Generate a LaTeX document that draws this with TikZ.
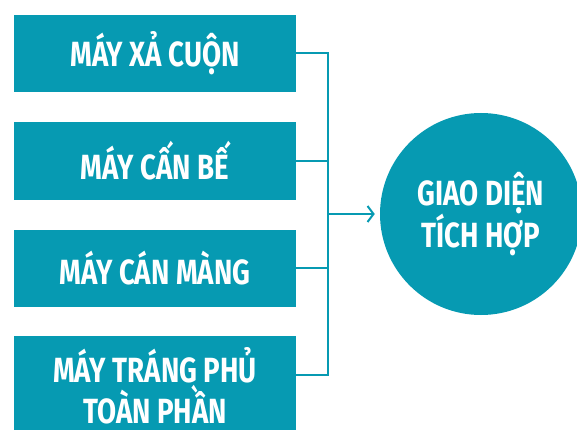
\documentclass[tikz,border=0pt]{standalone}
\usepackage{fontspec}
\usetikzlibrary{arrows.meta}
\newfontfamily\boxfont[FakeStretch=0.79]{Fira Sans}
\definecolor{teal}{RGB}{6,154,178}

\begin{document}
\begin{tikzpicture}[x=1pt, y=-1pt,
    machine/.style={fill=teal, minimum width=282, minimum height=77, inner sep=0pt,
        text=white, font=\boxfont\bfseries\fontsize{35}{41}\selectfont, align=center},
    hub/.style={circle, fill=teal, minimum size=202, inner sep=0pt,
        text=white, font=\boxfont\bfseries\fontsize{35}{42}\selectfont, align=center},
    link/.style={color=teal, line width=2}]
    \useasboundingbox (0,0) rectangle (577,430);
    \clip (0,0) rectangle (577,430);
    \node (m1) at (155,53.5) [machine] {MÁY XẢ CUỘN};
    \node (m2) at (155,161) [machine] {MÁY CẤN BẾ};
    \node (m3) at (155,268) [machine] {MÁY CÁN MÀNG};
    \node (m4) at (155,386) [machine, minimum height=100] {MÁY TRÁNG PHỦ\\TOÀN PHẦN};
    \node (hub) at (481,214) [hub] {GIAO DIỆN\\TÍCH HỢP};
    \coordinate (top) at (328,53);
    \coordinate (bot) at (328,375);
    \coordinate (mid) at (328,214);
    \draw [link] (m1.east |- top) -- (top) -- (bot) -- (m4.east |- bot);
    \draw [link] (m2.east) -- (m2.east -| mid);
    \draw [link] (m3.east) -- (m3.east -| mid);
    \draw [link, -{Straight Barb[length=6pt, width=16pt]}] (mid) -- ([xshift=-5]hub.west);
\end{tikzpicture}
\end{document}
